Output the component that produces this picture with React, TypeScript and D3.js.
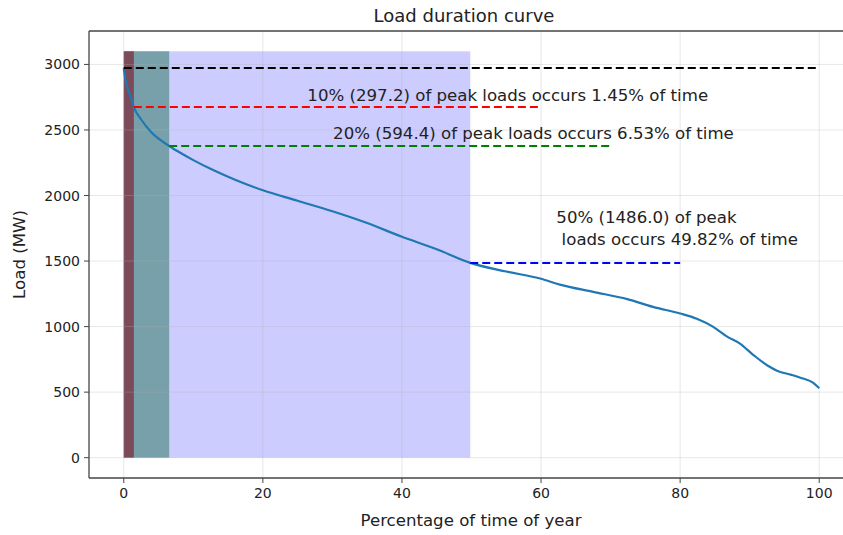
import React from "react";
import * as d3 from "d3";

// Load duration curve: percentage of time of year vs. sorted hourly load
const pctTime = [0, 0.2, 0.5, 1.0, 1.45, 2.5, 4, 6.53, 8, 10, 13, 16, 20, 25, 30, 35, 40, 45, 49.82, 55, 60, 62.7, 67.5, 72.4, 76.1, 80, 82.4, 84.7, 86.7, 88.6, 90.5, 92.5, 94, 96, 97.3, 99.1, 99.7, 100];
const loadMW = [2972, 2900, 2830, 2750, 2675, 2580, 2480, 2378, 2330, 2270, 2190, 2120, 2040, 1960, 1880, 1790, 1685, 1590, 1486, 1420, 1365, 1320, 1265, 1210, 1150, 1100, 1060, 1000, 925, 870, 785, 705, 662, 632, 610, 572, 545, 530];

const spanTop = 3100;

// Shaded spans: end % of time and fill
const spanEnds = [49.82, 6.53, 1.45];
const spanFills = ["#ccccff", "#78a0aa", "#7c4a58"];

// Reference lines: load, x start, x end, colour
const refLoads = [2972, 2674.8, 2377.6, 1486.0];
const refStarts = [0, 1.45, 6.53, 49.82];
const refEnds = [100, 60, 70, 80];
const refColors = ["#000000", "#ff0000", "#008000", "#0000ff"];

const xTicks = [0, 20, 40, 60, 80, 100];
const yTicks = [0, 500, 1000, 1500, 2000, 2500, 3000];

const annotations = [
  { lines: ["10% (297.2) of peak loads occurs 1.45% of time"], x: 26.4, y: 2721 },
  { lines: ["20% (594.4) of peak loads occurs 6.53% of time"], x: 30.1, y: 2431 },
  { lines: ["50% (1486.0) of peak", " loads occurs 49.82% of time"], x: 62.2, y: 1790 },
];

const W = 843;
const H = 535;
const font = "DejaVu Sans, sans-serif";

export default function App() {
  const x = d3.scaleLinear().domain([-5, 105]).range([89, 854]);
  const y = d3.scaleLinear().domain([-155, 3255]).range([478, 31]);
  const [x0, x1] = x.range();
  const [yb, yt] = y.range();

  const line = d3
    .line<number>()
    .x((_, i) => x(pctTime[i]))
    .y((d) => y(d))
    .curve(d3.curveMonotoneX);

  return (
    <svg width={W} height={H} style={{ position: "absolute", left: 0, top: 0, background: "#fff" }} fontFamily={font}>
      <defs>
        <clipPath id="plot">
          <rect x={x0} y={yt} width={x1 - x0} height={yb - yt} />
        </clipPath>
      </defs>
      <g clipPath="url(#plot)">
        {spanEnds.map((e, i) => (
          <rect key={i} x={x(0)} y={y(spanTop)} width={x(e) - x(0)} height={y(0) - y(spanTop)} fill={spanFills[i]} />
        ))}
        {xTicks.map((t) => (
          <line key={"gx" + t} x1={x(t)} x2={x(t)} y1={yt} y2={yb} stroke="#b0b0b0" strokeOpacity={0.3} strokeWidth={1} />
        ))}
        {yTicks.map((t) => (
          <line key={"gy" + t} x1={x0} x2={x1} y1={y(t)} y2={y(t)} stroke="#b0b0b0" strokeOpacity={0.3} strokeWidth={1} />
        ))}
        <path d={line(loadMW) ?? ""} fill="none" stroke="#1f77b4" strokeWidth={2.2} />
        {refLoads.map((v, i) => (
          <line key={"r" + i} x1={x(refStarts[i])} x2={x(refEnds[i])} y1={y(v)} y2={y(v)} stroke={refColors[i]} strokeWidth={2} strokeDasharray="8,4" />
        ))}
      </g>
      {annotations.map((a, i) => (
        <text key={"a" + i} x={x(a.x)} y={y(a.y)} fontSize={16.6} fill="#222">
          {a.lines.map((l, j) => (
            <tspan key={j} x={x(a.x)} dy={j === 0 ? 0 : 22} style={{ whiteSpace: "pre" }}>{l}</tspan>
          ))}
        </text>
      ))}
      {/* spines */}
      <line x1={x0} x2={x0} y1={yt} y2={yb} stroke="#444" strokeWidth={1.3} />
      <line x1={x0} x2={x1} y1={yb} y2={yb} stroke="#444" strokeWidth={1.3} />
      <line x1={x0} x2={x1} y1={yt} y2={yt} stroke="#444" strokeWidth={1.3} />
      {/* x axis */}
      {xTicks.map((t) => (
        <g key={"xt" + t}>
          <line x1={x(t)} x2={x(t)} y1={yb} y2={yb + 5} stroke="#444" strokeWidth={1} />
          <text x={x(t)} y={yb + 20} textAnchor="middle" fontSize={14} fill="#222">{t}</text>
        </g>
      ))}
      {yTicks.map((t) => (
        <g key={"yt" + t}>
          <line x1={x0 - 5} x2={x0} y1={y(t)} y2={y(t)} stroke="#444" strokeWidth={1} />
          <text x={x0 - 9} y={y(t) + 5} textAnchor="end" fontSize={14} fill="#222">{t}</text>
        </g>
      ))}
      <text x={471} y={526} textAnchor="middle" fontSize={16.6} fill="#222">Percentage of time of year</text>
      <text transform={`translate(25,${(yb + yt) / 2}) rotate(-90)`} textAnchor="middle" fontSize={16.6} fill="#222">Load (MW)</text>
      <text x={464} y={22} textAnchor="middle" fontSize={18} fill="#222">Load duration curve</text>
    </svg>
  );
}
